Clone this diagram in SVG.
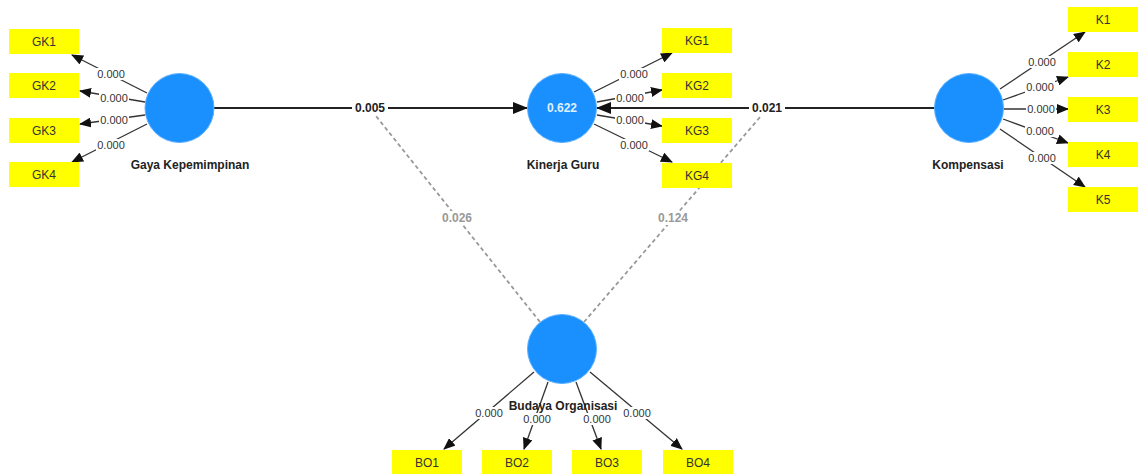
<svg xmlns="http://www.w3.org/2000/svg" width="1139" height="474" viewBox="0 0 1139 474">
<style>
.bg{fill:#fff}
.ind rect{fill:#ffff00}
.ind text{font-family:"Liberation Sans",Arial,sans-serif;font-size:12px;fill:#333;text-anchor:middle}
.lv circle{fill:#1a90ff;stroke:#5ab0ff;stroke-width:1}
.lv text.name{font-family:"Liberation Sans",Arial,sans-serif;font-size:12px;font-weight:bold;fill:#222;text-anchor:middle}
.lv text.r2{font-family:"Liberation Sans",Arial,sans-serif;font-size:12px;font-weight:bold;fill:#dff0ff;text-anchor:middle}
.ld{stroke:#333;stroke-width:1.3;fill:none}
.pth{stroke:#222;stroke-width:2;fill:none}
.mod{stroke:#999;stroke-width:1.8;stroke-dasharray:4,3;fill:none}
.lab rect{fill:#fff}
.lab text{font-family:"Liberation Sans",Arial,sans-serif;font-size:11px;fill:#333;text-anchor:middle}
.plab text{font-family:"Liberation Sans",Arial,sans-serif;font-size:12px;font-weight:bold;fill:#222;text-anchor:middle}
.mlab text{font-family:"Liberation Sans",Arial,sans-serif;font-size:12px;font-weight:bold;fill:#999;text-anchor:middle}
</style>
<defs>
<marker id="ah" markerWidth="12" markerHeight="10" refX="11" refY="5" orient="auto" markerUnits="userSpaceOnUse">
<path d="M0,0 L12,5 L0,10 Z" fill="#111"/>
</marker>
<marker id="ahb" markerWidth="15" markerHeight="12" refX="14" refY="6" orient="auto" markerUnits="userSpaceOnUse">
<path d="M0,0 L15,6 L0,12 Z" fill="#111"/>
</marker>
</defs>
<rect class="bg" x="0" y="0" width="1139" height="474"/>

<g id="connectors">
<line class="mod" x1="540" y1="322" x2="376" y2="116"/>
<line class="mod" x1="584" y1="322" x2="761" y2="116"/>
<line class="pth" x1="214" y1="108" x2="527" y2="108" marker-end="url(#ahb)"/>
<line class="pth" x1="935" y1="108" x2="597" y2="108" marker-end="url(#ahb)"/>
<line class="ld" x1="147" y1="93" x2="72" y2="55" marker-end="url(#ah)"/>
<line class="ld" x1="145" y1="102" x2="80" y2="91" marker-end="url(#ah)"/>
<line class="ld" x1="145" y1="115" x2="80" y2="124" marker-end="url(#ah)"/>
<line class="ld" x1="147" y1="124" x2="72" y2="162" marker-end="url(#ah)"/>
<line class="ld" x1="594" y1="92" x2="672" y2="53" marker-end="url(#ah)"/>
<line class="ld" x1="597" y1="102" x2="662" y2="90" marker-end="url(#ah)"/>
<line class="ld" x1="597" y1="115" x2="662" y2="126" marker-end="url(#ah)"/>
<line class="ld" x1="594" y1="124" x2="672" y2="162" marker-end="url(#ah)"/>
<line class="ld" x1="1000" y1="89" x2="1085" y2="32" marker-end="url(#ah)"/>
<line class="ld" x1="1003" y1="100" x2="1068" y2="77" marker-end="url(#ah)"/>
<line class="ld" x1="1004" y1="109" x2="1068" y2="109" marker-end="url(#ah)"/>
<line class="ld" x1="1003" y1="119" x2="1068" y2="143" marker-end="url(#ah)"/>
<line class="ld" x1="1000" y1="129" x2="1085" y2="187" marker-end="url(#ah)"/>
<line class="ld" x1="534" y1="372" x2="444" y2="449" marker-end="url(#ah)"/>
<line class="ld" x1="548" y1="382" x2="524" y2="449" marker-end="url(#ah)"/>
<line class="ld" x1="576" y1="382" x2="601" y2="449" marker-end="url(#ah)"/>
<line class="ld" x1="590" y1="372" x2="682" y2="449" marker-end="url(#ah)"/>
</g>

<g id="node-GK" class="lv">
<circle cx="179.5" cy="108" r="34.5"/>
<text class="name" x="190" y="169">Gaya Kepemimpinan</text>
</g>
<g id="node-KG" class="lv">
<circle cx="562" cy="108" r="34.5"/>
<text class="r2" x="562" y="112">0.622</text>
<text class="name" x="563" y="169">Kinerja Guru</text>
</g>
<g id="node-K" class="lv">
<circle cx="969" cy="108" r="34.5"/>
<text class="name" x="968" y="169">Kompensasi</text>
</g>
<g id="node-BO" class="lv">
<circle cx="562" cy="349" r="34.5"/>
<text class="name" x="563" y="410">Budaya Organisasi</text>
</g>

<g id="labels">
<g class="plab">
<rect class="bg" x="352" y="101" width="36" height="14"/>
<text x="370" y="112">0.005</text>
<rect class="bg" x="749" y="101" width="36" height="14"/>
<text x="767" y="112">0.021</text>
</g>
<g class="mlab">
<rect class="bg" x="440" y="211" width="34" height="14"/>
<text x="457" y="222">0.026</text>
<rect class="bg" x="656" y="211" width="34" height="14"/>
<text x="673" y="222">0.124</text>
</g>
<g class="lab">
<rect x="96" y="68" width="30" height="12"/><text x="111" y="78">0.000</text>
<rect x="99" y="92" width="30" height="12"/><text x="114" y="102">0.000</text>
<rect x="99" y="114" width="30" height="12"/><text x="114" y="124">0.000</text>
<rect x="96" y="139" width="30" height="12"/><text x="111" y="149">0.000</text>

<rect x="619" y="68" width="30" height="12"/><text x="634" y="78">0.000</text>
<rect x="615" y="92" width="30" height="12"/><text x="630" y="102">0.000</text>
<rect x="615" y="114" width="30" height="12"/><text x="630" y="124">0.000</text>
<rect x="619" y="139" width="30" height="12"/><text x="634" y="149">0.000</text>

<rect x="1027" y="56" width="30" height="12"/><text x="1042" y="66">0.000</text>
<rect x="1025" y="81" width="30" height="12"/><text x="1040" y="91">0.000</text>
<rect x="1026" y="103" width="30" height="12"/><text x="1041" y="113">0.000</text>
<rect x="1025" y="125" width="30" height="12"/><text x="1040" y="135">0.000</text>
<rect x="1027" y="152" width="30" height="12"/><text x="1042" y="162">0.000</text>

<rect x="474" y="407" width="30" height="12"/><text x="489" y="417">0.000</text>
<rect x="522" y="413" width="30" height="12"/><text x="537" y="423">0.000</text>
<rect x="582" y="413" width="30" height="12"/><text x="597" y="423">0.000</text>
<rect x="622" y="407" width="30" height="12"/><text x="637" y="417">0.000</text>
</g>
</g>

<g id="ind-GK1" class="ind"><rect x="9" y="29" width="70" height="25"/><text x="44" y="46">GK1</text></g>
<g id="ind-GK2" class="ind"><rect x="9" y="73" width="70" height="25"/><text x="44" y="90">GK2</text></g>
<g id="ind-GK3" class="ind"><rect x="9" y="118" width="70" height="25"/><text x="44" y="135">GK3</text></g>
<g id="ind-GK4" class="ind"><rect x="9" y="162" width="70" height="25"/><text x="44" y="179">GK4</text></g>

<g id="ind-KG1" class="ind"><rect x="662" y="28" width="70" height="25"/><text x="697" y="45">KG1</text></g>
<g id="ind-KG2" class="ind"><rect x="662" y="73" width="70" height="25"/><text x="697" y="90">KG2</text></g>
<g id="ind-KG3" class="ind"><rect x="662" y="118" width="70" height="25"/><text x="697" y="135">KG3</text></g>
<g id="ind-KG4" class="ind"><rect x="662" y="163" width="70" height="25"/><text x="697" y="180">KG4</text></g>

<g id="ind-K1" class="ind"><rect x="1068" y="7" width="70" height="25"/><text x="1103" y="24">K1</text></g>
<g id="ind-K2" class="ind"><rect x="1068" y="52" width="70" height="25"/><text x="1103" y="69">K2</text></g>
<g id="ind-K3" class="ind"><rect x="1068" y="97" width="70" height="25"/><text x="1103" y="114">K3</text></g>
<g id="ind-K4" class="ind"><rect x="1068" y="142" width="70" height="25"/><text x="1103" y="159">K4</text></g>
<g id="ind-K5" class="ind"><rect x="1068" y="187" width="70" height="25"/><text x="1103" y="204">K5</text></g>

<g id="ind-BO1" class="ind"><rect x="392" y="450" width="70" height="25"/><text x="427" y="467">BO1</text></g>
<g id="ind-BO2" class="ind"><rect x="482" y="450" width="70" height="25"/><text x="517" y="467">BO2</text></g>
<g id="ind-BO3" class="ind"><rect x="572" y="450" width="70" height="25"/><text x="607" y="467">BO3</text></g>
<g id="ind-BO4" class="ind"><rect x="663" y="450" width="70" height="25"/><text x="698" y="467">BO4</text></g>
</svg>
